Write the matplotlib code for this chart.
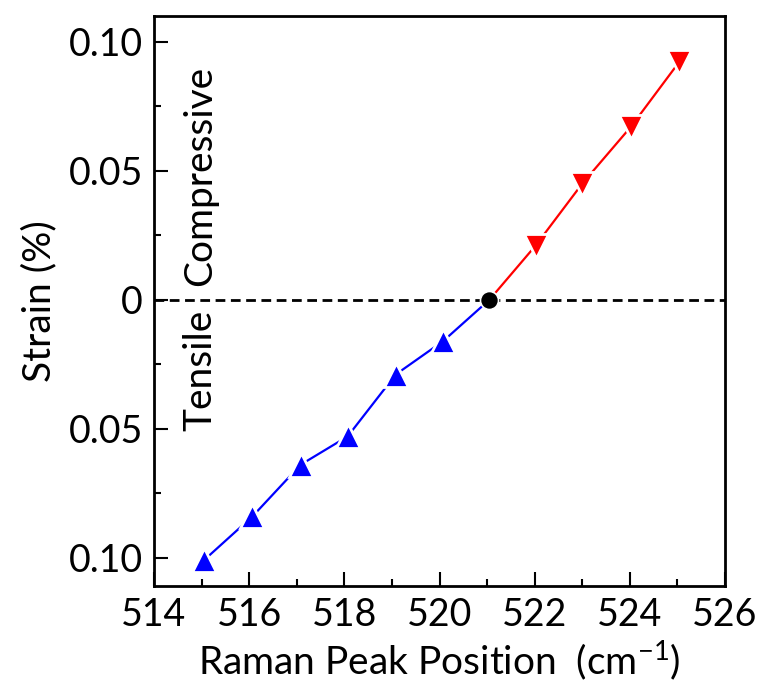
import matplotlib
matplotlib.use("Agg")
import matplotlib.pyplot as plt
from matplotlib.ticker import MultipleLocator, FuncFormatter

plt.rcParams['font.family'] = ['Lato', 'DejaVu Sans']
plt.rcParams['mathtext.fontset'] = 'custom'
plt.rcParams['mathtext.rm'] = 'Lato'
plt.rcParams['mathtext.it'] = 'Lato:italic'

# Data
tensile_x = [515.05, 516.07, 517.08, 518.07, 519.08, 520.08, 521.05]
tensile_y = [-0.101, -0.084, -0.064, -0.053, -0.029, -0.016, 0.0]
comp_x = [521.05, 522.02, 523.0, 524.02, 525.03]
comp_y = [0.0, 0.021, 0.045, 0.067, 0.092]
zero_x = [521.05]
zero_y = [0.0]

fig = plt.figure(figsize=(7.57, 6.84), dpi=100)
ax = fig.add_axes([154/757, 1-586/684, (725-154)/757, (586-16)/684])

ax.axhline(0, color='black', lw=2.0, ls=(0, (3.5, 2.0)), zorder=1)

ax.plot(tensile_x, tensile_y, color='#0000ff', lw=1.6, zorder=2)
ax.plot(tensile_x[:-1], tensile_y[:-1], ls='none', marker='^', ms=17,
        color='#0000ff', mec='white', mew=2.0, zorder=4)
ax.plot(comp_x, comp_y, color='#ff0000', lw=1.6, zorder=2)
ax.plot(comp_x[1:], comp_y[1:], ls='none', marker='v', ms=17,
        color='#ff0000', mec='white', mew=2.0, zorder=4)
ax.plot(zero_x, zero_y, ls='none', marker='o', ms=13, color='black',
        mec='white', mew=1.2, zorder=5)

ax.set_xlim(514, 526)
ax.set_ylim(-0.111, 0.110)
ax.xaxis.set_major_locator(MultipleLocator(2))
ax.xaxis.set_minor_locator(MultipleLocator(1))
ax.yaxis.set_major_locator(MultipleLocator(0.05))
ax.yaxis.set_minor_locator(MultipleLocator(0.025))

def yfmt(v, pos):
    a = abs(v)
    if a < 1e-9:
        return '0'
    return f'{a:.2f}'
ax.yaxis.set_major_formatter(FuncFormatter(yfmt))

ax.tick_params(which='both', direction='in', top=False, right=False,
               labelsize=27, width=1.5)
ax.tick_params(which='major', length=10, pad=8)
ax.tick_params(which='minor', length=5)
for s in ax.spines.values():
    s.set_linewidth(2.0)

ax.set_xlabel('Raman Peak Position  (cm$^{\\mathrm{-1}}$)', fontsize=28, labelpad=4)
ax.set_ylabel('Strain (%)', fontsize=28, labelpad=8)

ax.text(514.97, 0.0055, 'Compressive', rotation=90, fontsize=28,
        ha='center', va='bottom')
ax.text(514.97, -0.051, 'Tensile', rotation=90, fontsize=28,
        ha='center', va='bottom')

fig.savefig('out.png', dpi=100)
